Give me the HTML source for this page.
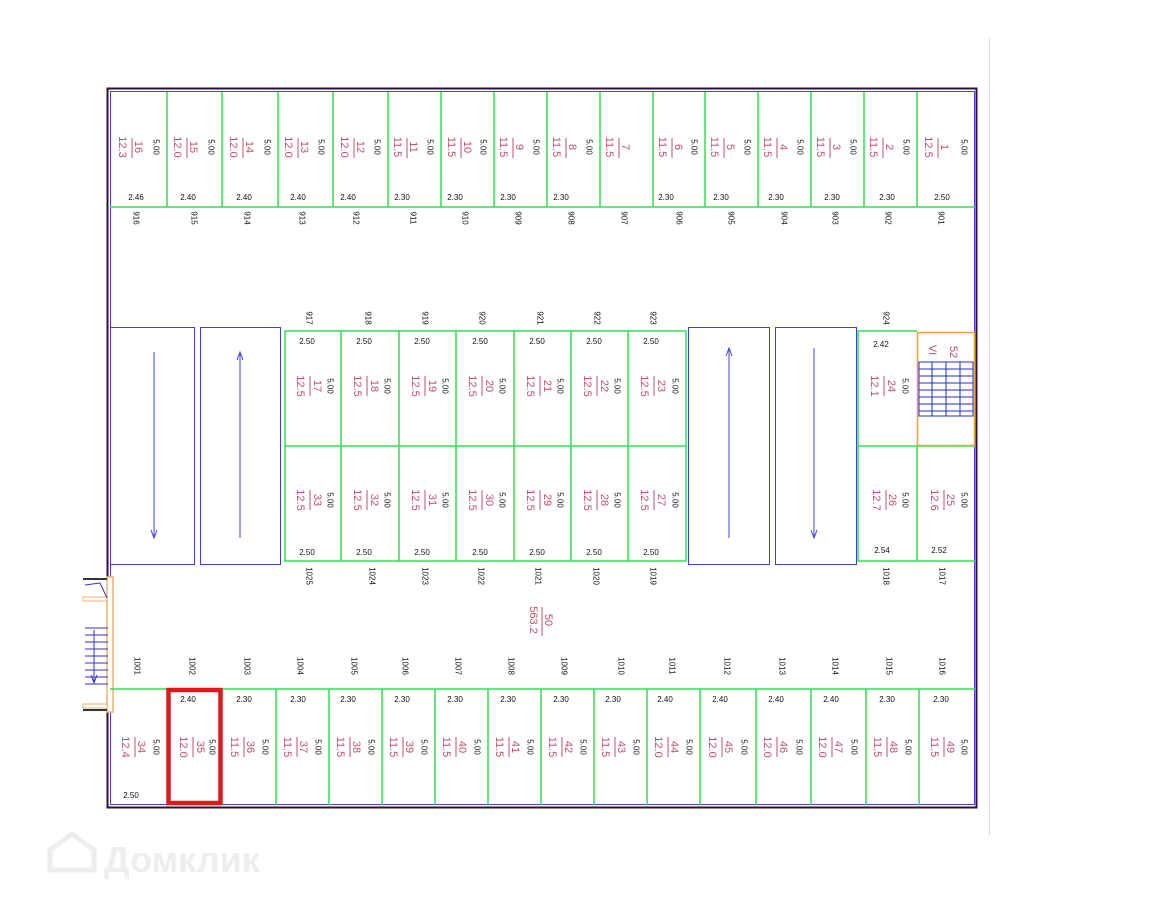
<!DOCTYPE html>
<html><head><meta charset="utf-8"><style>
html,body{margin:0;padding:0;background:#fff;width:1152px;height:915px;overflow:hidden}
svg{display:block}
.a{font:11px "Liberation Sans",sans-serif;fill:#c0506a}
.s{font:8px "Liberation Sans",sans-serif;fill:#111}
</style></head><body>
<svg width="1152" height="915" viewBox="0 0 1152 915">
<line x1="989.5" y1="38" x2="989.5" y2="835" stroke="#ddd"/>
<!-- outer -->
<rect x="107.5" y="88.5" width="869" height="719" fill="none" stroke="#301030" stroke-width="2"/>
<rect x="110.5" y="91.5" width="864" height="713" fill="none" stroke="#4040e0" stroke-width="1"/>
<!-- left stair -->
<rect x="83" y="577" width="30" height="135" fill="#fff"/>
<rect x="107" y="577" width="6" height="135" fill="#fff" stroke="#f0b070" stroke-width="1.5"/>
<line x1="83" y1="579" x2="107" y2="579" stroke="#333" stroke-width="2"/>
<rect x="83" y="597" width="24" height="4" fill="#fff" stroke="#f0b070"/>
<rect x="83" y="704" width="24" height="4" fill="#fff" stroke="#f0b070"/>
<line x1="83" y1="710" x2="107" y2="710" stroke="#333" stroke-width="2"/>
<path d="M85 585 L100 583 L107 598" fill="none" stroke="#3030d0"/>
<g stroke="#3030d0">
<line x1="85" y1="628" x2="108" y2="628"/><line x1="85" y1="635" x2="108" y2="635"/><line x1="85" y1="642" x2="108" y2="642"/><line x1="85" y1="649" x2="108" y2="649"/><line x1="85" y1="656" x2="108" y2="656"/><line x1="85" y1="663" x2="108" y2="663"/><line x1="85" y1="670" x2="108" y2="670"/><line x1="85" y1="677" x2="108" y2="677"/><line x1="85" y1="684" x2="108" y2="684"/>
<line x1="94" y1="630" x2="94" y2="683"/><path d="M91 675 L94 683 L97 675" fill="none"/></g>
<!-- top row -->
<g stroke="#30e050" stroke-width="1.5" fill="none">
<line x1="110" y1="207" x2="975" y2="207"/>
<line x1="167" y1="92" x2="167" y2="207"/><line x1="222" y1="92" x2="222" y2="207"/><line x1="278" y1="92" x2="278" y2="207"/><line x1="333" y1="92" x2="333" y2="207"/><line x1="388" y1="92" x2="388" y2="207"/><line x1="441" y1="92" x2="441" y2="207"/><line x1="494" y1="92" x2="494" y2="207"/><line x1="547" y1="92" x2="547" y2="207"/><line x1="600" y1="92" x2="600" y2="207"/><line x1="653" y1="92" x2="653" y2="207"/><line x1="705" y1="92" x2="705" y2="207"/><line x1="758" y1="92" x2="758" y2="207"/><line x1="811" y1="92" x2="811" y2="207"/><line x1="864" y1="92" x2="864" y2="207"/><line x1="917" y1="92" x2="917" y2="207"/>
<!-- middle -->
<rect x="285" y="331" width="401" height="230"/>
<line x1="285" y1="446" x2="686" y2="446"/>
<line x1="341" y1="331" x2="341" y2="561"/><line x1="399" y1="331" x2="399" y2="561"/><line x1="456" y1="331" x2="456" y2="561"/><line x1="514" y1="331" x2="514" y2="561"/><line x1="571" y1="331" x2="571" y2="561"/><line x1="628" y1="331" x2="628" y2="561"/>
<!-- right -->
<polyline points="917,331 858,331 858,561 975,561"/>
<line x1="858" y1="446" x2="975" y2="446"/><line x1="917" y1="446" x2="917" y2="561"/>
<!-- bottom -->
<line x1="110" y1="689" x2="975" y2="689"/>
<line x1="276" y1="689" x2="276" y2="805"/><line x1="329" y1="689" x2="329" y2="805"/><line x1="382" y1="689" x2="382" y2="805"/><line x1="435" y1="689" x2="435" y2="805"/><line x1="488" y1="689" x2="488" y2="805"/><line x1="541" y1="689" x2="541" y2="805"/><line x1="594" y1="689" x2="594" y2="805"/><line x1="647" y1="689" x2="647" y2="805"/><line x1="700" y1="689" x2="700" y2="805"/><line x1="756" y1="689" x2="756" y2="805"/><line x1="811" y1="689" x2="811" y2="805"/><line x1="866" y1="689" x2="866" y2="805"/><line x1="919" y1="689" x2="919" y2="805"/>
</g>
<!-- ramps -->
<g stroke="#4040e0" fill="none">
<rect x="110.5" y="327.5" width="84" height="237"/><rect x="200.5" y="327.5" width="80" height="237"/>
<rect x="688.5" y="327.5" width="81" height="237"/><rect x="775.5" y="327.5" width="81" height="237"/>
<line x1="154" y1="352" x2="154" y2="538"/><path d="M151 530 L154 538 L157 530"/>
<line x1="240" y1="352" x2="240" y2="538"/><path d="M237 360 L240 352 L243 360"/>
<line x1="729" y1="348" x2="729" y2="538"/><path d="M726 356 L729 348 L732 356"/>
<line x1="814" y1="348" x2="814" y2="538"/><path d="M811 530 L814 538 L817 530"/>
</g>
<!-- right stair -->
<rect x="917.5" y="332.5" width="57" height="113" fill="none" stroke="#f0a040" stroke-width="1.5"/>
<g stroke="#2030c0" fill="none">
<rect x="919" y="362" width="54" height="54"/><line x1="946" y1="362" x2="946" y2="416"/><line x1="932" y1="362" x2="932" y2="416"/><line x1="960" y1="362" x2="960" y2="416"/>
<line x1="919" y1="369" x2="973" y2="369"/><line x1="919" y1="376" x2="973" y2="376"/><line x1="919" y1="383" x2="973" y2="383"/><line x1="919" y1="390" x2="973" y2="390"/><line x1="919" y1="397" x2="973" y2="397"/><line x1="919" y1="404" x2="973" y2="404"/><line x1="919" y1="411" x2="973" y2="411"/>
</g>
<text class="a" transform="translate(932,350) rotate(90)" text-anchor="middle" dominant-baseline="central">VI</text>
<text class="a" transform="translate(953,352) rotate(90)" text-anchor="middle" dominant-baseline="central">52</text>
<!-- red -->
<rect x="168.5" y="690" width="52" height="113" fill="none" stroke="#e01a1a" stroke-width="4.5"/>

<!-- TOP ROW LABELS -->
<g id="top">
<text class="a" transform="translate(122,147) rotate(90)" text-anchor="middle" dominant-baseline="central">12.3</text><line x1="132" y1="138" x2="132" y2="158" stroke="#c0506a"/><text class="a" transform="translate(138,147) rotate(90)" text-anchor="middle" dominant-baseline="central">16</text>
<text class="a" transform="translate(177,147) rotate(90)" text-anchor="middle" dominant-baseline="central">12.0</text><line x1="187" y1="138" x2="187" y2="158" stroke="#c0506a"/><text class="a" transform="translate(193,147) rotate(90)" text-anchor="middle" dominant-baseline="central">15</text>
<text class="a" transform="translate(233,147) rotate(90)" text-anchor="middle" dominant-baseline="central">12.0</text><line x1="243" y1="138" x2="243" y2="158" stroke="#c0506a"/><text class="a" transform="translate(249,147) rotate(90)" text-anchor="middle" dominant-baseline="central">14</text>
<text class="a" transform="translate(288,147) rotate(90)" text-anchor="middle" dominant-baseline="central">12.0</text><line x1="298" y1="138" x2="298" y2="158" stroke="#c0506a"/><text class="a" transform="translate(304,147) rotate(90)" text-anchor="middle" dominant-baseline="central">13</text>
<text class="a" transform="translate(344,147) rotate(90)" text-anchor="middle" dominant-baseline="central">12.0</text><line x1="354" y1="138" x2="354" y2="158" stroke="#c0506a"/><text class="a" transform="translate(360,147) rotate(90)" text-anchor="middle" dominant-baseline="central">12</text>
<text class="a" transform="translate(397,147) rotate(90)" text-anchor="middle" dominant-baseline="central">11.5</text><line x1="407" y1="138" x2="407" y2="158" stroke="#c0506a"/><text class="a" transform="translate(413,147) rotate(90)" text-anchor="middle" dominant-baseline="central">11</text>
<text class="a" transform="translate(451,147) rotate(90)" text-anchor="middle" dominant-baseline="central">11.5</text><line x1="461" y1="138" x2="461" y2="158" stroke="#c0506a"/><text class="a" transform="translate(467,147) rotate(90)" text-anchor="middle" dominant-baseline="central">10</text>
<text class="a" transform="translate(503,147) rotate(90)" text-anchor="middle" dominant-baseline="central">11.5</text><line x1="513" y1="138" x2="513" y2="158" stroke="#c0506a"/><text class="a" transform="translate(519,147) rotate(90)" text-anchor="middle" dominant-baseline="central">9</text>
<text class="a" transform="translate(556,147) rotate(90)" text-anchor="middle" dominant-baseline="central">11.5</text><line x1="566" y1="138" x2="566" y2="158" stroke="#c0506a"/><text class="a" transform="translate(572,147) rotate(90)" text-anchor="middle" dominant-baseline="central">8</text>
<text class="a" transform="translate(609,147) rotate(90)" text-anchor="middle" dominant-baseline="central">11.5</text><line x1="619" y1="138" x2="619" y2="158" stroke="#c0506a"/><text class="a" transform="translate(625,147) rotate(90)" text-anchor="middle" dominant-baseline="central">7</text>
<text class="a" transform="translate(662,147) rotate(90)" text-anchor="middle" dominant-baseline="central">11.5</text><line x1="672" y1="138" x2="672" y2="158" stroke="#c0506a"/><text class="a" transform="translate(678,147) rotate(90)" text-anchor="middle" dominant-baseline="central">6</text>
<text class="a" transform="translate(714,147) rotate(90)" text-anchor="middle" dominant-baseline="central">11.5</text><line x1="724" y1="138" x2="724" y2="158" stroke="#c0506a"/><text class="a" transform="translate(730,147) rotate(90)" text-anchor="middle" dominant-baseline="central">5</text>
<text class="a" transform="translate(767,147) rotate(90)" text-anchor="middle" dominant-baseline="central">11.5</text><line x1="777" y1="138" x2="777" y2="158" stroke="#c0506a"/><text class="a" transform="translate(783,147) rotate(90)" text-anchor="middle" dominant-baseline="central">4</text>
<text class="a" transform="translate(820,147) rotate(90)" text-anchor="middle" dominant-baseline="central">11.5</text><line x1="830" y1="138" x2="830" y2="158" stroke="#c0506a"/><text class="a" transform="translate(836,147) rotate(90)" text-anchor="middle" dominant-baseline="central">3</text>
<text class="a" transform="translate(873,147) rotate(90)" text-anchor="middle" dominant-baseline="central">11.5</text><line x1="883" y1="138" x2="883" y2="158" stroke="#c0506a"/><text class="a" transform="translate(889,147) rotate(90)" text-anchor="middle" dominant-baseline="central">2</text>
<text class="a" transform="translate(928,147) rotate(90)" text-anchor="middle" dominant-baseline="central">12.5</text><line x1="938" y1="138" x2="938" y2="158" stroke="#c0506a"/><text class="a" transform="translate(944,147) rotate(90)" text-anchor="middle" dominant-baseline="central">1</text>
</g>
<g class="s">
<text class="s" transform="translate(156,147) rotate(90)" text-anchor="middle" dominant-baseline="central">5.00</text>
<text class="s" transform="translate(211,147) rotate(90)" text-anchor="middle" dominant-baseline="central">5.00</text>
<text class="s" transform="translate(267,147) rotate(90)" text-anchor="middle" dominant-baseline="central">5.00</text>
<text class="s" transform="translate(321,147) rotate(90)" text-anchor="middle" dominant-baseline="central">5.00</text>
<text class="s" transform="translate(377,147) rotate(90)" text-anchor="middle" dominant-baseline="central">5.00</text>
<text class="s" transform="translate(430,147) rotate(90)" text-anchor="middle" dominant-baseline="central">5.00</text>
<text class="s" transform="translate(483,147) rotate(90)" text-anchor="middle" dominant-baseline="central">5.00</text>
<text class="s" transform="translate(536,147) rotate(90)" text-anchor="middle" dominant-baseline="central">5.00</text>
<text class="s" transform="translate(589,147) rotate(90)" text-anchor="middle" dominant-baseline="central">5.00</text>
<text class="s" transform="translate(694,147) rotate(90)" text-anchor="middle" dominant-baseline="central">5.00</text>
<text class="s" transform="translate(747,147) rotate(90)" text-anchor="middle" dominant-baseline="central">5.00</text>
<text class="s" transform="translate(800,147) rotate(90)" text-anchor="middle" dominant-baseline="central">5.00</text>
<text class="s" transform="translate(853,147) rotate(90)" text-anchor="middle" dominant-baseline="central">5.00</text>
<text class="s" transform="translate(906,147) rotate(90)" text-anchor="middle" dominant-baseline="central">5.00</text>
<text class="s" transform="translate(964,147) rotate(90)" text-anchor="middle" dominant-baseline="central">5.00</text>
<g text-anchor="middle">
<text class="s" x="136" y="200">2.46</text><text class="s" x="188" y="200">2.40</text><text class="s" x="244" y="200">2.40</text><text class="s" x="298" y="200">2.40</text><text class="s" x="348" y="200">2.40</text><text class="s" x="402" y="200">2.30</text><text class="s" x="455" y="200">2.30</text><text class="s" x="508" y="200">2.30</text><text class="s" x="561" y="200">2.30</text><text class="s" x="666" y="200">2.30</text><text class="s" x="721" y="200">2.30</text><text class="s" x="776" y="200">2.30</text><text class="s" x="832" y="200">2.30</text><text class="s" x="887" y="200">2.30</text><text class="s" x="942" y="200">2.50</text>
</g>
<text class="s" transform="translate(136,218) rotate(90)" text-anchor="middle" dominant-baseline="central">916</text>
<text class="s" transform="translate(194,218) rotate(90)" text-anchor="middle" dominant-baseline="central">915</text>
<text class="s" transform="translate(247,218) rotate(90)" text-anchor="middle" dominant-baseline="central">914</text>
<text class="s" transform="translate(302,218) rotate(90)" text-anchor="middle" dominant-baseline="central">913</text>
<text class="s" transform="translate(356,218) rotate(90)" text-anchor="middle" dominant-baseline="central">912</text>
<text class="s" transform="translate(413,218) rotate(90)" text-anchor="middle" dominant-baseline="central">911</text>
<text class="s" transform="translate(465,218) rotate(90)" text-anchor="middle" dominant-baseline="central">910</text>
<text class="s" transform="translate(518,218) rotate(90)" text-anchor="middle" dominant-baseline="central">909</text>
<text class="s" transform="translate(571,218) rotate(90)" text-anchor="middle" dominant-baseline="central">908</text>
<text class="s" transform="translate(624,218) rotate(90)" text-anchor="middle" dominant-baseline="central">907</text>
<text class="s" transform="translate(679,218) rotate(90)" text-anchor="middle" dominant-baseline="central">906</text>
<text class="s" transform="translate(731,218) rotate(90)" text-anchor="middle" dominant-baseline="central">905</text>
<text class="s" transform="translate(784,218) rotate(90)" text-anchor="middle" dominant-baseline="central">904</text>
<text class="s" transform="translate(835,218) rotate(90)" text-anchor="middle" dominant-baseline="central">903</text>
<text class="s" transform="translate(888,218) rotate(90)" text-anchor="middle" dominant-baseline="central">902</text>
<text class="s" transform="translate(941,218) rotate(90)" text-anchor="middle" dominant-baseline="central">901</text>
</g>

<!-- MIDDLE LABELS -->
<g>
<text class="s" transform="translate(309,318) rotate(90)" text-anchor="middle" dominant-baseline="central">917</text>
<text class="s" transform="translate(368,318) rotate(90)" text-anchor="middle" dominant-baseline="central">918</text>
<text class="s" transform="translate(425,318) rotate(90)" text-anchor="middle" dominant-baseline="central">919</text>
<text class="s" transform="translate(482,318) rotate(90)" text-anchor="middle" dominant-baseline="central">920</text>
<text class="s" transform="translate(540,318) rotate(90)" text-anchor="middle" dominant-baseline="central">921</text>
<text class="s" transform="translate(597,318) rotate(90)" text-anchor="middle" dominant-baseline="central">922</text>
<text class="s" transform="translate(653,318) rotate(90)" text-anchor="middle" dominant-baseline="central">923</text>
<text class="s" transform="translate(886,318) rotate(90)" text-anchor="middle" dominant-baseline="central">924</text>
<text class="s" transform="translate(309,576) rotate(90)" text-anchor="middle" dominant-baseline="central">1025</text>
<text class="s" transform="translate(372,576) rotate(90)" text-anchor="middle" dominant-baseline="central">1024</text>
<text class="s" transform="translate(425,576) rotate(90)" text-anchor="middle" dominant-baseline="central">1023</text>
<text class="s" transform="translate(481,576) rotate(90)" text-anchor="middle" dominant-baseline="central">1022</text>
<text class="s" transform="translate(538,576) rotate(90)" text-anchor="middle" dominant-baseline="central">1021</text>
<text class="s" transform="translate(596,576) rotate(90)" text-anchor="middle" dominant-baseline="central">1020</text>
<text class="s" transform="translate(653,576) rotate(90)" text-anchor="middle" dominant-baseline="central">1019</text>
<text class="s" transform="translate(886,576) rotate(90)" text-anchor="middle" dominant-baseline="central">1018</text>
<text class="s" transform="translate(942,576) rotate(90)" text-anchor="middle" dominant-baseline="central">1017</text>
<g text-anchor="middle">
<text class="s" x="307" y="344">2.50</text><text class="s" x="364" y="344">2.50</text><text class="s" x="422" y="344">2.50</text><text class="s" x="480" y="344">2.50</text><text class="s" x="537" y="344">2.50</text><text class="s" x="594" y="344">2.50</text><text class="s" x="651" y="344">2.50</text>
<text class="s" x="307" y="555">2.50</text><text class="s" x="364" y="555">2.50</text><text class="s" x="422" y="555">2.50</text><text class="s" x="480" y="555">2.50</text><text class="s" x="537" y="555">2.50</text><text class="s" x="594" y="555">2.50</text><text class="s" x="651" y="555">2.50</text>
<text class="s" x="881" y="347">2.42</text><text class="s" x="882" y="553">2.54</text><text class="s" x="939" y="553">2.52</text>
</g>
</g>
<g>
<!-- mid top row 17..23, y 386 -->
<text class="a" transform="translate(300,386) rotate(90)" text-anchor="middle" dominant-baseline="central">12.5</text><line x1="310" y1="376" x2="310" y2="396" stroke="#c0506a"/><text class="a" transform="translate(317,386) rotate(90)" text-anchor="middle" dominant-baseline="central">17</text><text class="s" transform="translate(330,386) rotate(90)" text-anchor="middle" dominant-baseline="central">5.00</text>
<text class="a" transform="translate(357,386) rotate(90)" text-anchor="middle" dominant-baseline="central">12.5</text><line x1="367" y1="376" x2="367" y2="396" stroke="#c0506a"/><text class="a" transform="translate(374,386) rotate(90)" text-anchor="middle" dominant-baseline="central">18</text><text class="s" transform="translate(387,386) rotate(90)" text-anchor="middle" dominant-baseline="central">5.00</text>
<text class="a" transform="translate(415,386) rotate(90)" text-anchor="middle" dominant-baseline="central">12.5</text><line x1="425" y1="376" x2="425" y2="396" stroke="#c0506a"/><text class="a" transform="translate(432,386) rotate(90)" text-anchor="middle" dominant-baseline="central">19</text><text class="s" transform="translate(445,386) rotate(90)" text-anchor="middle" dominant-baseline="central">5.00</text>
<text class="a" transform="translate(472,386) rotate(90)" text-anchor="middle" dominant-baseline="central">12.5</text><line x1="482" y1="376" x2="482" y2="396" stroke="#c0506a"/><text class="a" transform="translate(489,386) rotate(90)" text-anchor="middle" dominant-baseline="central">20</text><text class="s" transform="translate(502,386) rotate(90)" text-anchor="middle" dominant-baseline="central">5.00</text>
<text class="a" transform="translate(530,386) rotate(90)" text-anchor="middle" dominant-baseline="central">12.5</text><line x1="540" y1="376" x2="540" y2="396" stroke="#c0506a"/><text class="a" transform="translate(547,386) rotate(90)" text-anchor="middle" dominant-baseline="central">21</text><text class="s" transform="translate(560,386) rotate(90)" text-anchor="middle" dominant-baseline="central">5.00</text>
<text class="a" transform="translate(587,386) rotate(90)" text-anchor="middle" dominant-baseline="central">12.5</text><line x1="597" y1="376" x2="597" y2="396" stroke="#c0506a"/><text class="a" transform="translate(604,386) rotate(90)" text-anchor="middle" dominant-baseline="central">22</text><text class="s" transform="translate(617,386) rotate(90)" text-anchor="middle" dominant-baseline="central">5.00</text>
<text class="a" transform="translate(644,386) rotate(90)" text-anchor="middle" dominant-baseline="central">12.5</text><line x1="654" y1="376" x2="654" y2="396" stroke="#c0506a"/><text class="a" transform="translate(661,386) rotate(90)" text-anchor="middle" dominant-baseline="central">23</text><text class="s" transform="translate(675,386) rotate(90)" text-anchor="middle" dominant-baseline="central">5.00</text>
<text class="a" transform="translate(874,386) rotate(90)" text-anchor="middle" dominant-baseline="central">12.1</text><line x1="884" y1="376" x2="884" y2="396" stroke="#c0506a"/><text class="a" transform="translate(891,386) rotate(90)" text-anchor="middle" dominant-baseline="central">24</text><text class="s" transform="translate(905,386) rotate(90)" text-anchor="middle" dominant-baseline="central">5.00</text>
<!-- mid bottom row y 500 -->
<text class="a" transform="translate(300,500) rotate(90)" text-anchor="middle" dominant-baseline="central">12.5</text><line x1="310" y1="490" x2="310" y2="510" stroke="#c0506a"/><text class="a" transform="translate(317,500) rotate(90)" text-anchor="middle" dominant-baseline="central">33</text><text class="s" transform="translate(330,500) rotate(90)" text-anchor="middle" dominant-baseline="central">5.00</text>
<text class="a" transform="translate(357,500) rotate(90)" text-anchor="middle" dominant-baseline="central">12.5</text><line x1="367" y1="490" x2="367" y2="510" stroke="#c0506a"/><text class="a" transform="translate(374,500) rotate(90)" text-anchor="middle" dominant-baseline="central">32</text><text class="s" transform="translate(387,500) rotate(90)" text-anchor="middle" dominant-baseline="central">5.00</text>
<text class="a" transform="translate(415,500) rotate(90)" text-anchor="middle" dominant-baseline="central">12.5</text><line x1="425" y1="490" x2="425" y2="510" stroke="#c0506a"/><text class="a" transform="translate(432,500) rotate(90)" text-anchor="middle" dominant-baseline="central">31</text><text class="s" transform="translate(445,500) rotate(90)" text-anchor="middle" dominant-baseline="central">5.00</text>
<text class="a" transform="translate(472,500) rotate(90)" text-anchor="middle" dominant-baseline="central">12.5</text><line x1="482" y1="490" x2="482" y2="510" stroke="#c0506a"/><text class="a" transform="translate(489,500) rotate(90)" text-anchor="middle" dominant-baseline="central">30</text><text class="s" transform="translate(502,500) rotate(90)" text-anchor="middle" dominant-baseline="central">5.00</text>
<text class="a" transform="translate(530,500) rotate(90)" text-anchor="middle" dominant-baseline="central">12.5</text><line x1="540" y1="490" x2="540" y2="510" stroke="#c0506a"/><text class="a" transform="translate(547,500) rotate(90)" text-anchor="middle" dominant-baseline="central">29</text><text class="s" transform="translate(560,500) rotate(90)" text-anchor="middle" dominant-baseline="central">5.00</text>
<text class="a" transform="translate(587,500) rotate(90)" text-anchor="middle" dominant-baseline="central">12.5</text><line x1="597" y1="490" x2="597" y2="510" stroke="#c0506a"/><text class="a" transform="translate(604,500) rotate(90)" text-anchor="middle" dominant-baseline="central">28</text><text class="s" transform="translate(617,500) rotate(90)" text-anchor="middle" dominant-baseline="central">5.00</text>
<text class="a" transform="translate(644,500) rotate(90)" text-anchor="middle" dominant-baseline="central">12.5</text><line x1="654" y1="490" x2="654" y2="510" stroke="#c0506a"/><text class="a" transform="translate(661,500) rotate(90)" text-anchor="middle" dominant-baseline="central">27</text><text class="s" transform="translate(675,500) rotate(90)" text-anchor="middle" dominant-baseline="central">5.00</text>
<text class="a" transform="translate(876,500) rotate(90)" text-anchor="middle" dominant-baseline="central">12.7</text><line x1="886" y1="490" x2="886" y2="510" stroke="#c0506a"/><text class="a" transform="translate(892,500) rotate(90)" text-anchor="middle" dominant-baseline="central">26</text><text class="s" transform="translate(905,500) rotate(90)" text-anchor="middle" dominant-baseline="central">5.00</text>
<text class="a" transform="translate(934,500) rotate(90)" text-anchor="middle" dominant-baseline="central">12.6</text><line x1="944" y1="490" x2="944" y2="510" stroke="#c0506a"/><text class="a" transform="translate(950,500) rotate(90)" text-anchor="middle" dominant-baseline="central">25</text><text class="s" transform="translate(964,500) rotate(90)" text-anchor="middle" dominant-baseline="central">5.00</text>
<!-- center 50 -->
<text class="a" transform="translate(533,620) rotate(90)" text-anchor="middle" dominant-baseline="central">563.2</text><line x1="542" y1="607" x2="542" y2="636" stroke="#c0506a"/><text class="a" transform="translate(548,620) rotate(90)" text-anchor="middle" dominant-baseline="central">50</text>
</g>
<!-- bottom codes -->
<g>
<text class="s" transform="translate(137,666) rotate(90)" text-anchor="middle" dominant-baseline="central">1001</text>
<text class="s" transform="translate(192,666) rotate(90)" text-anchor="middle" dominant-baseline="central">1002</text>
<text class="s" transform="translate(247,666) rotate(90)" text-anchor="middle" dominant-baseline="central">1003</text>
<text class="s" transform="translate(300,666) rotate(90)" text-anchor="middle" dominant-baseline="central">1004</text>
<text class="s" transform="translate(354,666) rotate(90)" text-anchor="middle" dominant-baseline="central">1005</text>
<text class="s" transform="translate(405,666) rotate(90)" text-anchor="middle" dominant-baseline="central">1006</text>
<text class="s" transform="translate(458,666) rotate(90)" text-anchor="middle" dominant-baseline="central">1007</text>
<text class="s" transform="translate(511,666) rotate(90)" text-anchor="middle" dominant-baseline="central">1008</text>
<text class="s" transform="translate(564,666) rotate(90)" text-anchor="middle" dominant-baseline="central">1009</text>
<text class="s" transform="translate(621,666) rotate(90)" text-anchor="middle" dominant-baseline="central">1010</text>
<text class="s" transform="translate(672,666) rotate(90)" text-anchor="middle" dominant-baseline="central">1011</text>
<text class="s" transform="translate(727,666) rotate(90)" text-anchor="middle" dominant-baseline="central">1012</text>
<text class="s" transform="translate(782,666) rotate(90)" text-anchor="middle" dominant-baseline="central">1013</text>
<text class="s" transform="translate(835,666) rotate(90)" text-anchor="middle" dominant-baseline="central">1014</text>
<text class="s" transform="translate(889,666) rotate(90)" text-anchor="middle" dominant-baseline="central">1015</text>
<text class="s" transform="translate(942,666) rotate(90)" text-anchor="middle" dominant-baseline="central">1016</text>
<g text-anchor="middle">
<text class="s" x="188" y="702">2.40</text><text class="s" x="244" y="702">2.30</text><text class="s" x="298" y="702">2.30</text><text class="s" x="348" y="702">2.30</text><text class="s" x="402" y="702">2.30</text><text class="s" x="455" y="702">2.30</text><text class="s" x="508" y="702">2.30</text><text class="s" x="561" y="702">2.30</text><text class="s" x="613" y="702">2.30</text><text class="s" x="665" y="702">2.40</text><text class="s" x="720" y="702">2.40</text><text class="s" x="776" y="702">2.40</text><text class="s" x="831" y="702">2.40</text><text class="s" x="887" y="702">2.30</text><text class="s" x="941" y="702">2.30</text>
<text class="s" x="131" y="798">2.50</text>
</g>
</g>
<g>
<text class="a" transform="translate(125,747) rotate(90)" text-anchor="middle" dominant-baseline="central">12.4</text><line x1="135" y1="737" x2="135" y2="757" stroke="#c0506a"/><text class="a" transform="translate(141,747) rotate(90)" text-anchor="middle" dominant-baseline="central">34</text><text class="s" transform="translate(156,747) rotate(90)" text-anchor="middle" dominant-baseline="central">5.00</text>
<text class="a" transform="translate(183,747) rotate(90)" text-anchor="middle" dominant-baseline="central">12.0</text><line x1="193" y1="737" x2="193" y2="757" stroke="#c0506a"/><text class="a" transform="translate(200,747) rotate(90)" text-anchor="middle" dominant-baseline="central">35</text><text class="s" transform="translate(212,747) rotate(90)" text-anchor="middle" dominant-baseline="central">5.00</text>
<text class="a" transform="translate(234,747) rotate(90)" text-anchor="middle" dominant-baseline="central">11.5</text><line x1="244" y1="737" x2="244" y2="757" stroke="#c0506a"/><text class="a" transform="translate(250,747) rotate(90)" text-anchor="middle" dominant-baseline="central">36</text><text class="s" transform="translate(265,747) rotate(90)" text-anchor="middle" dominant-baseline="central">5.00</text>
<text class="a" transform="translate(287,747) rotate(90)" text-anchor="middle" dominant-baseline="central">11.5</text><line x1="297" y1="737" x2="297" y2="757" stroke="#c0506a"/><text class="a" transform="translate(303,747) rotate(90)" text-anchor="middle" dominant-baseline="central">37</text><text class="s" transform="translate(318,747) rotate(90)" text-anchor="middle" dominant-baseline="central">5.00</text>
<text class="a" transform="translate(340,747) rotate(90)" text-anchor="middle" dominant-baseline="central">11.5</text><line x1="350" y1="737" x2="350" y2="757" stroke="#c0506a"/><text class="a" transform="translate(356,747) rotate(90)" text-anchor="middle" dominant-baseline="central">38</text><text class="s" transform="translate(371,747) rotate(90)" text-anchor="middle" dominant-baseline="central">5.00</text>
<text class="a" transform="translate(393,747) rotate(90)" text-anchor="middle" dominant-baseline="central">11.5</text><line x1="403" y1="737" x2="403" y2="757" stroke="#c0506a"/><text class="a" transform="translate(409,747) rotate(90)" text-anchor="middle" dominant-baseline="central">39</text><text class="s" transform="translate(424,747) rotate(90)" text-anchor="middle" dominant-baseline="central">5.00</text>
<text class="a" transform="translate(446,747) rotate(90)" text-anchor="middle" dominant-baseline="central">11.5</text><line x1="456" y1="737" x2="456" y2="757" stroke="#c0506a"/><text class="a" transform="translate(462,747) rotate(90)" text-anchor="middle" dominant-baseline="central">40</text><text class="s" transform="translate(477,747) rotate(90)" text-anchor="middle" dominant-baseline="central">5.00</text>
<text class="a" transform="translate(499,747) rotate(90)" text-anchor="middle" dominant-baseline="central">11.5</text><line x1="509" y1="737" x2="509" y2="757" stroke="#c0506a"/><text class="a" transform="translate(515,747) rotate(90)" text-anchor="middle" dominant-baseline="central">41</text><text class="s" transform="translate(530,747) rotate(90)" text-anchor="middle" dominant-baseline="central">5.00</text>
<text class="a" transform="translate(552,747) rotate(90)" text-anchor="middle" dominant-baseline="central">11.5</text><line x1="562" y1="737" x2="562" y2="757" stroke="#c0506a"/><text class="a" transform="translate(568,747) rotate(90)" text-anchor="middle" dominant-baseline="central">42</text><text class="s" transform="translate(583,747) rotate(90)" text-anchor="middle" dominant-baseline="central">5.00</text>
<text class="a" transform="translate(605,747) rotate(90)" text-anchor="middle" dominant-baseline="central">11.5</text><line x1="615" y1="737" x2="615" y2="757" stroke="#c0506a"/><text class="a" transform="translate(621,747) rotate(90)" text-anchor="middle" dominant-baseline="central">43</text><text class="s" transform="translate(636,747) rotate(90)" text-anchor="middle" dominant-baseline="central">5.00</text>
<text class="a" transform="translate(658,747) rotate(90)" text-anchor="middle" dominant-baseline="central">12.0</text><line x1="668" y1="737" x2="668" y2="757" stroke="#c0506a"/><text class="a" transform="translate(674,747) rotate(90)" text-anchor="middle" dominant-baseline="central">44</text><text class="s" transform="translate(689,747) rotate(90)" text-anchor="middle" dominant-baseline="central">5.00</text>
<text class="a" transform="translate(712,747) rotate(90)" text-anchor="middle" dominant-baseline="central">12.0</text><line x1="722" y1="737" x2="722" y2="757" stroke="#c0506a"/><text class="a" transform="translate(728,747) rotate(90)" text-anchor="middle" dominant-baseline="central">45</text><text class="s" transform="translate(744,747) rotate(90)" text-anchor="middle" dominant-baseline="central">5.00</text>
<text class="a" transform="translate(767,747) rotate(90)" text-anchor="middle" dominant-baseline="central">12.0</text><line x1="777" y1="737" x2="777" y2="757" stroke="#c0506a"/><text class="a" transform="translate(783,747) rotate(90)" text-anchor="middle" dominant-baseline="central">46</text><text class="s" transform="translate(799,747) rotate(90)" text-anchor="middle" dominant-baseline="central">5.00</text>
<text class="a" transform="translate(822,747) rotate(90)" text-anchor="middle" dominant-baseline="central">12.0</text><line x1="832" y1="737" x2="832" y2="757" stroke="#c0506a"/><text class="a" transform="translate(838,747) rotate(90)" text-anchor="middle" dominant-baseline="central">47</text><text class="s" transform="translate(854,747) rotate(90)" text-anchor="middle" dominant-baseline="central">5.00</text>
<text class="a" transform="translate(877,747) rotate(90)" text-anchor="middle" dominant-baseline="central">11.5</text><line x1="887" y1="737" x2="887" y2="757" stroke="#c0506a"/><text class="a" transform="translate(893,747) rotate(90)" text-anchor="middle" dominant-baseline="central">48</text><text class="s" transform="translate(908,747) rotate(90)" text-anchor="middle" dominant-baseline="central">5.00</text>
<text class="a" transform="translate(934,747) rotate(90)" text-anchor="middle" dominant-baseline="central">11.5</text><line x1="944" y1="737" x2="944" y2="757" stroke="#c0506a"/><text class="a" transform="translate(950,747) rotate(90)" text-anchor="middle" dominant-baseline="central">49</text><text class="s" transform="translate(964,747) rotate(90)" text-anchor="middle" dominant-baseline="central">5.00</text>
</g>
<!-- watermark -->
<path d="M50 870 L50 850 L72 834 L94 850 L94 870 Z" fill="none" stroke="#eee" stroke-width="5"/>
<text x="104" y="872" font-family="Liberation Sans, sans-serif" font-size="36" font-weight="bold" fill="#eee">Домклик</text>
</svg>
</body></html>
